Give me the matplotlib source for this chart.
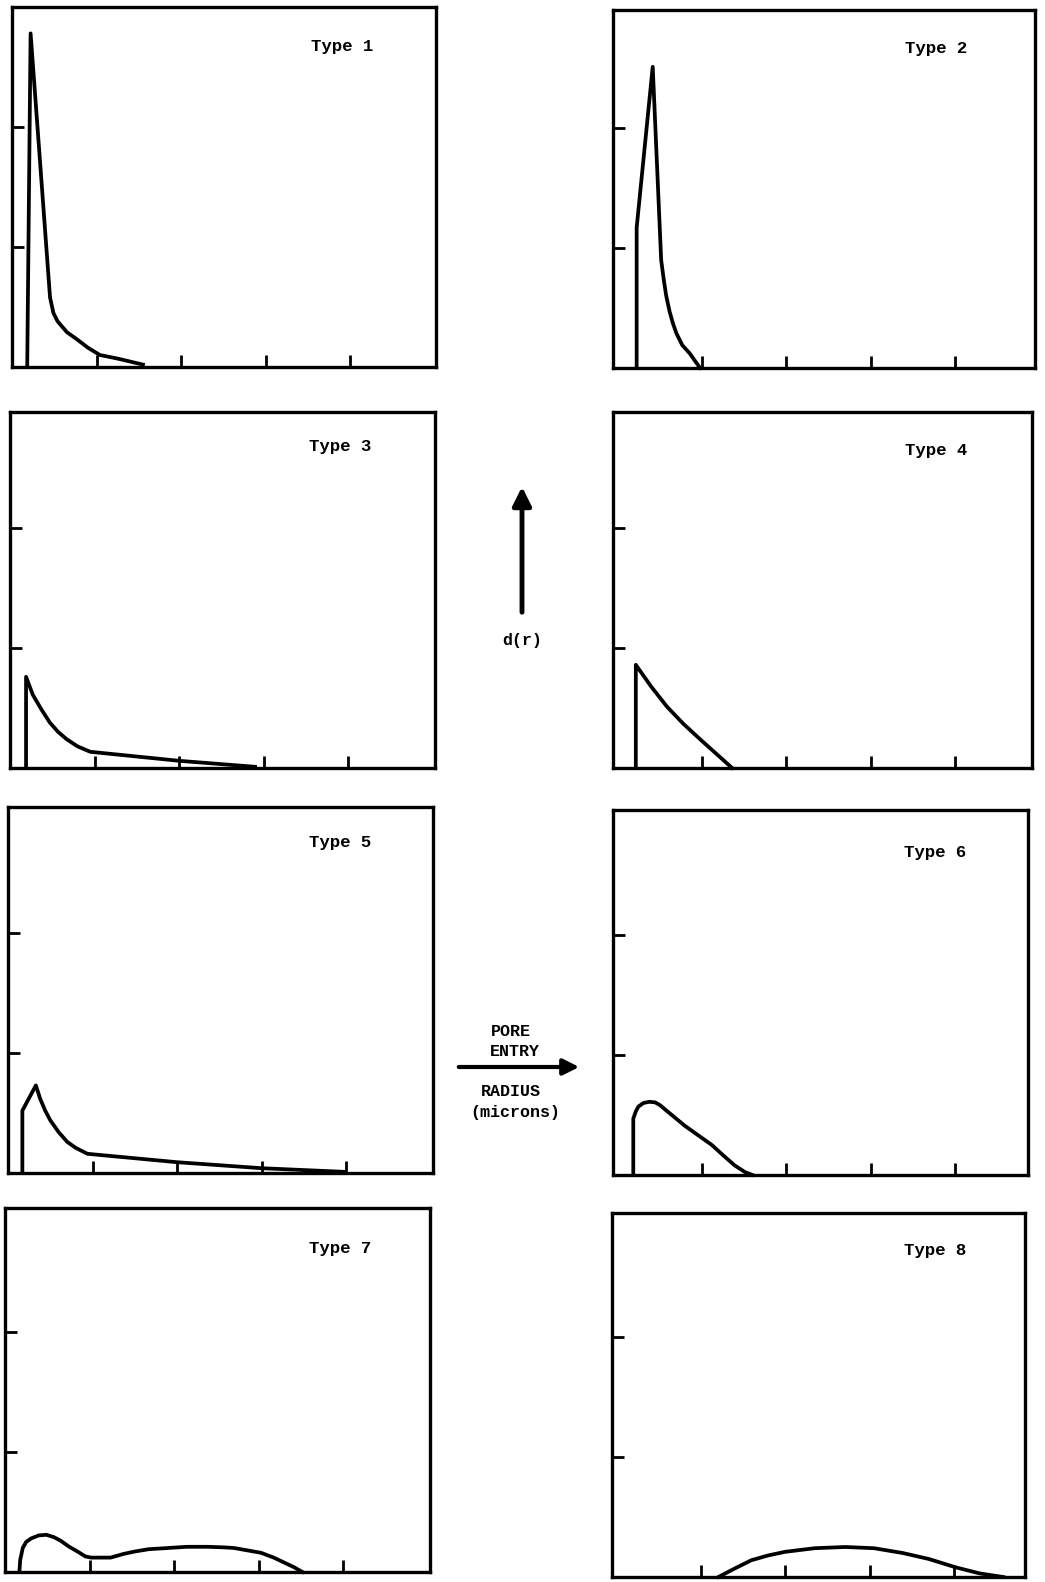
import matplotlib.pyplot as plt

# pore entry radius (x, tick units) vs d(r) (y, tick units)
types = ["Type 1", "Type 2", "Type 3", "Type 4", "Type 5", "Type 6", "Type 7", "Type 8"]

x1 = [0.18, 0.22, 0.45, 0.49, 0.54, 0.65, 0.77, 0.90, 1.04, 1.25, 1.55]
y1 = [0.0, 2.78, 0.58, 0.45, 0.38, 0.29, 0.23, 0.16, 0.10, 0.07, 0.02]

x2 = [0.23, 0.23, 0.42, 0.52, 0.55, 0.58, 0.62, 0.66, 0.70, 0.77, 0.86, 0.98]
y2 = [0.0, 1.17, 2.51, 0.90, 0.74, 0.60, 0.47, 0.37, 0.29, 0.19, 0.12, 0.0]

x3 = [0.19, 0.19, 0.27, 0.37, 0.47, 0.57, 0.67, 0.80, 0.95, 2.0, 2.9]
y3 = [0.0, 0.76, 0.61, 0.49, 0.38, 0.30, 0.24, 0.18, 0.135, 0.06, 0.01]

x4 = [0.22, 0.22, 0.40, 0.59, 0.78, 0.98, 1.17, 1.36]
y4 = [0.0, 0.86, 0.68, 0.51, 0.37, 0.24, 0.12, 0.0]

x5 = [0.17, 0.17, 0.33, 0.38, 0.44, 0.50, 0.60, 0.70, 0.80, 0.94, 2.0, 3.0, 3.97]
y5 = [0.0, 0.52, 0.73, 0.62, 0.52, 0.44, 0.34, 0.26, 0.21, 0.16, 0.09, 0.04, 0.01]

x6 = [0.19, 0.19, 0.22, 0.25, 0.31, 0.38, 0.45, 0.51, 0.56, 0.68, 0.80, 0.96, 1.12, 1.26, 1.39, 1.51, 1.60]
y6 = [0.0, 0.47, 0.53, 0.57, 0.60, 0.61, 0.605, 0.58, 0.55, 0.48, 0.41, 0.33, 0.25, 0.16, 0.08, 0.025, 0.0]

x7 = [0.17, 0.18, 0.21, 0.25, 0.31, 0.40, 0.49, 0.58, 0.66, 0.76, 0.86, 0.95, 1.02, 1.25, 1.40, 1.53,
      1.70, 1.93, 2.15, 2.40, 2.60, 2.71, 2.87, 3.03, 3.18, 3.30, 3.42, 3.52]
y7 = [0.0, 0.10, 0.20, 0.25, 0.28, 0.305, 0.31, 0.29, 0.26, 0.21, 0.17, 0.13, 0.12, 0.12, 0.15, 0.17,
      0.19, 0.20, 0.21, 0.21, 0.205, 0.20, 0.18, 0.16, 0.12, 0.08, 0.04, 0.0]

x8 = [1.21, 1.40, 1.60, 1.80, 2.00, 2.35, 2.71, 3.05, 3.39, 3.70, 4.02, 4.30, 4.58]
y8 = [0.0, 0.07, 0.14, 0.18, 0.21, 0.24, 0.25, 0.24, 0.20, 0.15, 0.08, 0.03, 0.0]

xs = [x1, x2, x3, x4, x5, x6, x7, x8]
ys = [y1, y2, y3, y4, y5, y6, y7, y8]

W, H = 1045, 1582
# panel frames in pixels: left, top, right, bottom
boxes = [(12, 7, 436, 367), (613, 10, 1035, 368),
         (10, 412, 435, 768), (613, 412, 1032, 768),
         (8, 807, 433, 1173), (613, 810, 1028, 1175),
         (5, 1208, 430, 1572), (612, 1213, 1025, 1577)]
label_pos = [(342, 47), (936, 48), (340, 447), (936, 450),
             (340, 843), (935, 852), (340, 1248), (935, 1250)]

mono = dict(family="Liberation Mono", weight="bold")

fig = plt.figure(figsize=(W / 100, H / 100), dpi=100)

for i in range(8):
    l, t, r, b = boxes[i]
    ax = fig.add_axes([l / W, 1 - b / H, (r - l) / W, (b - t) / H])
    xmin = 0.0 if i % 2 == 0 else -0.05
    ax.set_xlim(xmin, xmin + (r - l) / 84.5)
    ax.set_ylim(0, (b - t) / 120)
    ax.plot(xs[i], ys[i], color="black", linewidth=2.7, solid_joinstyle="round", clip_on=False)
    ax.set_xticks([1, 2, 3, 4])
    ax.set_yticks([1, 2])
    ax.set_xticklabels([])
    ax.set_yticklabels([])
    ax.tick_params(direction="in", length=8.5, width=2, top=False, right=False)
    for s in ax.spines.values():
        s.set_linewidth(2.4)
    fig.text(label_pos[i][0] / W, 1 - label_pos[i][1] / H, types[i],
             ha="center", va="center", fontsize=12.5, **mono)

# overlay in pixel coordinates for the axis legend arrows
ov = fig.add_axes([0, 0, 1, 1])
ov.set_xlim(0, W)
ov.set_ylim(H, 0)
ov.axis("off")
ov.annotate("", xy=(522, 484), xytext=(522, 615),
            arrowprops=dict(arrowstyle="-|>", lw=3.5, mutation_scale=28, color="black"))
ov.text(522, 641, "d(r)", ha="center", va="center", fontsize=12, **mono)
ov.annotate("", xy=(582, 1067), xytext=(456, 1067),
            arrowprops=dict(arrowstyle="-|>", lw=3, mutation_scale=24, color="black"))
ov.text(511, 1031, "PORE", ha="center", va="center", fontsize=12, **mono)
ov.text(515, 1051, "ENTRY", ha="center", va="center", fontsize=12, **mono)
ov.text(511, 1091, "RADIUS", ha="center", va="center", fontsize=12, **mono)
ov.text(515, 1113, "(microns)", ha="center", va="center", fontsize=12, **mono)

plt.savefig("out.png", dpi=100)
